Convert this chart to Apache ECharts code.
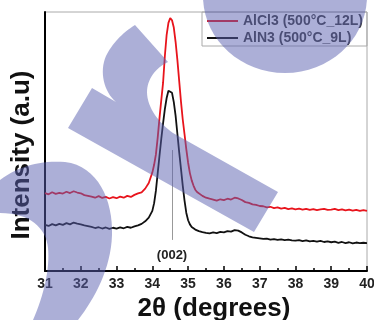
<!DOCTYPE html>
<html>
<head>
<meta charset="utf-8">
<script src="https://cdn.jsdelivr.net/npm/echarts@6/dist/echarts.min.js"></script>
<style>html,body{margin:0;padding:0;background:#fff}#c{width:374px;height:320px}</style>
</head>
<body>
<div id="c"></div>
<script>
const twoTheta = [
31.0,31.1,31.2,31.3,31.4,31.5,31.6,31.7,31.8,31.9,
32.0,32.1,32.2,32.3,32.4,32.5,32.6,32.7,32.8,32.9,
33.0,33.1,33.2,33.3,33.4,33.5,33.6,33.7,33.8,33.9,
34.0,34.05,34.1,34.15,34.2,34.25,34.3,34.35,34.4,34.45,
34.5,34.55,34.6,34.65,34.7,34.75,34.8,34.85,34.9,34.95,
35.0,35.05,35.1,35.15,35.2,35.25,35.3,
35.4,35.5,35.6,35.7,35.8,35.9,
36.0,36.1,36.2,36.3,36.4,36.5,36.6,36.7,36.8,36.9,
37.0,37.1,37.2,37.3,37.4,37.5,37.6,37.7,37.8,37.9,
38.0,38.1,38.2,38.3,38.4,38.5,38.6,38.7,38.8,38.9,
39.0,39.1,39.2,39.3,39.4,39.5,39.6,39.7,39.8,39.9,
40.0];
const alcl3 = [
301,296,304,298,302,299,306,301,308,303,
300,293,290,287,283,289,282,286,280,285,
281,287,283,290,286,294,300,304,318,340,
380,410,450,515,590,660,726,830,912,958,
977,968,940,885,815,735,655,585,528,470,
418,378,350,330,314,305,298,
290,283,279,276,272,277,
274,279,276,283,280,274,266,263,257,255,
251,250,246,248,243,246,241,244,239,242,
238,241,237,240,236,239,235,238,240,236,
237,240,235,238,234,237,233,236,232,235,
232];
const aln3 = [
178,174,181,176,182,178,185,180,187,183,
180,176,173,170,166,169,164,168,163,167,
164,168,165,170,167,172,176,182,192,206,
232,262,310,378,445,510,570,625,668,696,
703,688,652,600,530,460,395,330,272,224,
196,180,170,165,160,157,154,
150,147,145,149,146,151,
149,154,152,158,156,149,140,134,130,128,
126,124,125,121,123,120,122,119,121,118,
117,119,115,118,114,116,113,116,112,114,
111,113,109,112,108,111,107,110,108,109,
108];
const xTicks = [31,32,33,34,35,36,37,38,39,40];
const seriesNames = ['AlCl3 (500°C_12L)', 'AlN3 (500°C_9L)'];
const peakPos = 34.55;
const peakLine = [120, 467];
const peakLabel = '(002)';
const peakLabelY = 62;

const FONT = 'Liberation Sans, Arial, sans-serif';
const pair = ys => twoTheta.map((x, i) => [x, ys[i]]);

// decorative watermark outline -> polygon points
function pathToPoints(d) {
  const t = d.trim().split(/[\s,]+/);
  const pts = []; let i = 0; let cur = [0, 0];
  while (i < t.length) {
    const c = t[i++];
    if (c === 'M' || c === 'L') { cur = [+t[i], +t[i + 1]]; i += 2; pts.push(cur); }
    else if (c === 'C') {
      const p1 = [+t[i], +t[i + 1]], p2 = [+t[i + 2], +t[i + 3]], p3 = [+t[i + 4], +t[i + 5]]; i += 6;
      const p0 = cur;
      for (let k = 1; k <= 16; k++) {
        const s = k / 16, u = 1 - s;
        pts.push([u*u*u*p0[0] + 3*u*u*s*p1[0] + 3*u*s*s*p2[0] + s*s*s*p3[0],
                  u*u*u*p0[1] + 3*u*u*s*p1[1] + 3*u*s*s*p2[1] + s*s*s*p3[1]]);
      }
      cur = p3;
    }
  }
  return pts;
}

const chart = echarts.init(document.getElementById('c'));
const wm = 'rgba(90,95,175,0.5)';
chart.setOption({
  animation: false,
  backgroundColor: '#fff',
  grid: {left: 45, right: 7, top: 12, bottom: 49, show: true, borderColor: '#aaa', borderWidth: 1,
    containLabel: false, outerBoundsMode: 'none'},
  legend: {
    left: 202, top: 12, orient: 'vertical',
    padding: [1, 4, 0, 5], itemGap: 1,
    borderColor: '#aaa', borderWidth: 1,
    icon: 'rect', itemWidth: 31, itemHeight: 2,
    textStyle: {fontFamily: FONT, fontSize: 14, fontWeight: 'bold', color: '#3a3a3a', lineHeight: 16},
    data: seriesNames
  },
  xAxis: {
    type: 'value', min: 31, max: 40, interval: 1,
    axisLine: {lineStyle: {color: '#000', width: 2}},
    axisTick: {inside: true, length: 5, lineStyle: {color: '#000', width: 1.5}},
    minorTick: {show: true, splitNumber: 2, length: 3, lineStyle: {color: '#000', width: 1.5}},
    splitLine: {show: false},
    axisLabel: {fontFamily: FONT, fontSize: 14, fontWeight: 'bold', color: '#222', margin: 6,
      formatter: v => xTicks.includes(v) ? String(v) : ''},
    name: '2θ (degrees)', nameLocation: 'middle', nameGap: 9,
    nameTextStyle: {fontFamily: FONT, fontSize: 26, fontWeight: 'bold', color: '#111', padding: [0, 0, 0, 16]}
  },
  yAxis: {
    type: 'value', min: 0, max: 1000,
    axisLine: {show: true, lineStyle: {color: '#000', width: 2}},
    axisTick: {show: false}, axisLabel: {show: false}, splitLine: {show: false},
    name: 'Intensity (a.u)', nameLocation: 'middle', nameGap: 10,
    nameTextStyle: {fontFamily: FONT, fontSize: 26, fontWeight: 'bold', color: '#111', padding: [0, 27, 0, 0]}
  },
  series: [
    {name: seriesNames[0], type: 'line', data: pair(alcl3), showSymbol: false,
      lineStyle: {color: '#e8141c', width: 1.8}, itemStyle: {color: '#e8141c'}},
    {name: seriesNames[1], type: 'line', data: pair(aln3), showSymbol: false,
      lineStyle: {color: '#111', width: 1.8}, itemStyle: {color: '#111'},
      markLine: {silent: true, symbol: 'none', label: {show: false},
        lineStyle: {color: '#999', width: 1, type: 'solid'},
        data: [[{coord: [peakPos, peakLine[0]]}, {coord: [peakPos, peakLine[1]]}]]},
      markPoint: {silent: true, symbol: 'rect', symbolSize: 0.01,
        itemStyle: {color: 'rgba(0,0,0,0)'},
        label: {show: true, position: 'inside', formatter: peakLabel,
          fontFamily: FONT, fontSize: 13, fontWeight: 'bold', color: '#222'},
        data: [{coord: [peakPos, peakLabelY]}]}}
  ],
  graphic: [
    {type: 'ellipse', z: 100, shape: {cx: 285, cy: -4, rx: 82, ry: 77}, style: {fill: wm}},
    {type: 'polygon', z: 100, shape: {points: pathToPoints(
      'M 92 88 L 116 102 C 104 92 99 72 106 56 C 112 44 122 33 135 25 L 168 62 C 155 68 147 80 147 92 C 147 108 160 124 173 133 L 278 192 L 254 232 L 68 128 Z')},
      style: {fill: wm}},
    {type: 'polygon', z: 100, shape: {points: pathToPoints(
      'M 0 180 C 18 166 42 160 65 162 C 98 166 113 200 112 235 C 111 268 95 298 78 320 L 33 320 C 44 295 50 268 48 248 C 46 228 30 213 0 213 Z')},
      style: {fill: wm}}
  ]
});
</script>
</body>
</html>
